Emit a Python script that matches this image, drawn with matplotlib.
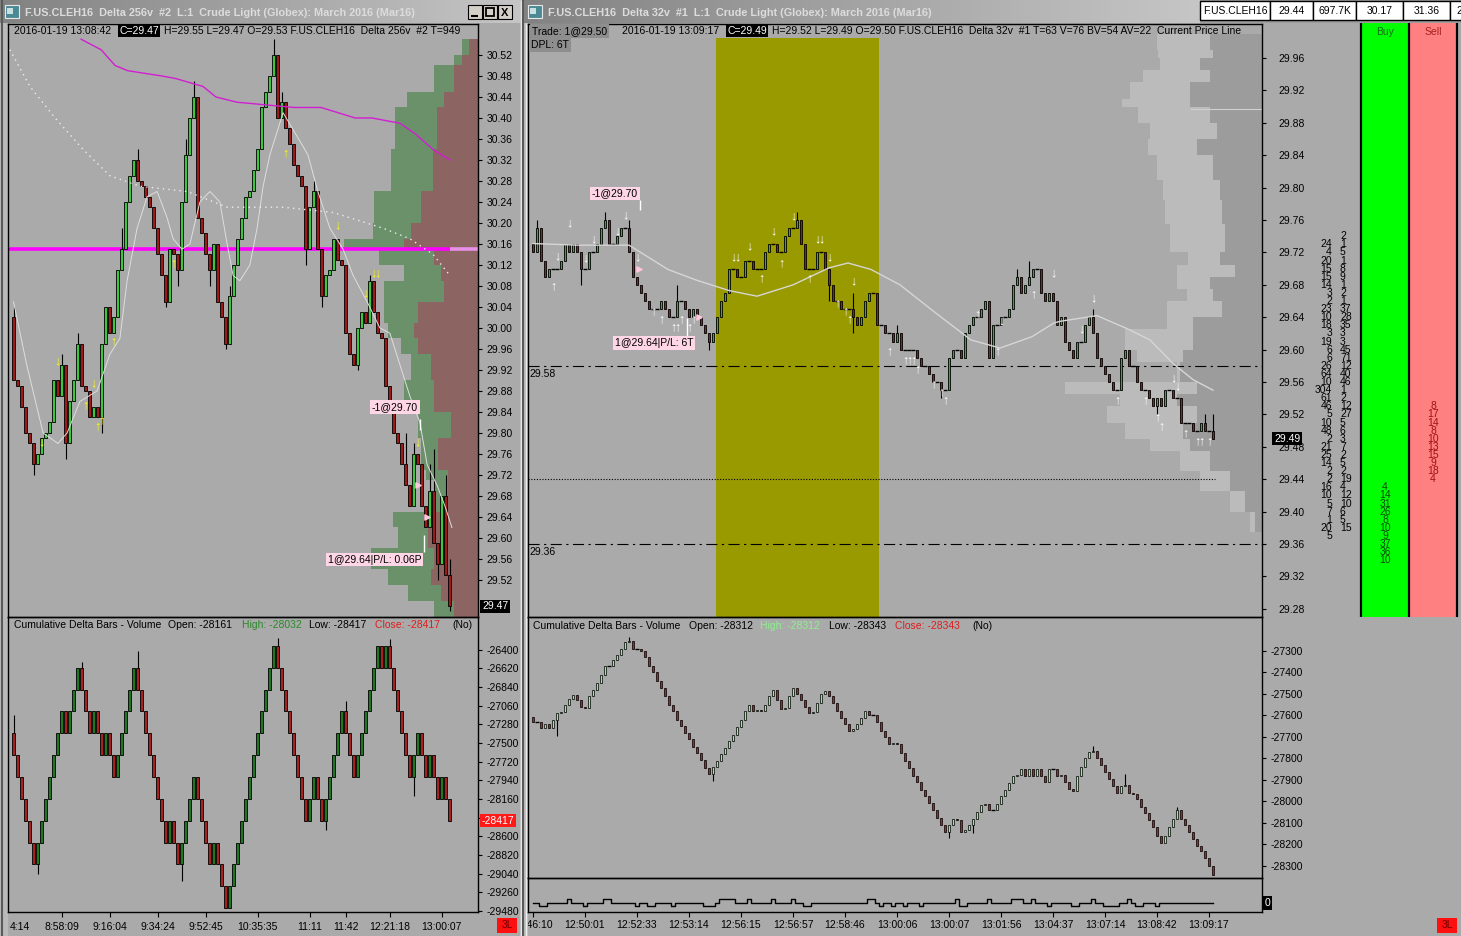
import numpy as np
import matplotlib.pyplot as plt
from matplotlib.patches import Rectangle
from matplotlib.colors import LinearSegmentedColormap

plt.rcParams['font.family'] = ['Liberation Sans', 'DejaVu Sans']
plt.rcParams['font.size'] = 7.5

W, H = 1461, 936
BG = '#aaaaaa'

# %%
# left window: Delta 256v, price bars
lp_open0 = 30.02
lp_close = [29.90, 29.89, 29.85, 29.80, 29.78, 29.74, 29.76, 29.79, 29.80, 29.82,
            29.90, 29.87, 29.93, 29.78, 29.86, 29.90, 29.97, 29.89, 29.88, 29.83,
            29.85, 29.83, 29.97, 30.04, 29.99, 30.02, 30.11, 30.15, 30.24, 30.29,
            30.32, 30.28, 30.27, 30.25, 30.23, 30.19, 30.14, 30.10, 30.05, 30.15,
            30.14, 30.11, 30.24, 30.33, 30.40, 30.44, 30.21, 30.18, 30.14, 30.11,
            30.16, 30.05, 30.02, 29.97, 30.06, 30.12, 30.17, 30.21, 30.25, 30.26,
            30.30, 30.34, 30.42, 30.45, 30.48, 30.52, 30.40, 30.43, 30.38, 30.35,
            30.31, 30.29, 30.27, 30.15, 30.23, 30.26, 30.15, 30.06, 30.10, 30.11,
            30.17, 30.13, 30.12, 29.99, 29.95, 29.93, 30.00, 30.03, 30.01, 30.09,
            30.03, 29.99, 29.98, 29.89, 29.85, 29.80, 29.78, 29.74, 29.70, 29.66,
            29.76, 29.74, 29.66, 29.62, 29.69, 29.59, 29.55, 29.68, 29.53, 29.47]
lp_hi = {0: 30.04, 12: 29.95, 16: 29.99, 27: 30.19, 31: 30.34, 43: 30.36, 45: 30.47,
         54: 30.08, 65: 30.55, 67: 30.45, 75: 30.28, 89: 30.10, 98: 29.80, 100: 29.78,
         104: 29.74, 105: 29.77, 108: 29.72, 109: 29.56}
lp_lo = {5: 29.72, 13: 29.75, 22: 29.80, 38: 30.04, 41: 30.08, 49: 30.08, 53: 29.96,
         73: 30.12, 77: 30.04, 86: 29.92, 106: 29.52, 109: 29.46}

# moving averages / vwap (bar position, price)
lma_bar = [0, 3.3, 7.4, 11.1, 13.4, 16.6, 20.9, 24.1, 26.6, 28.4, 30.9, 33.4, 35.9, 38.4,
           39.9, 42.1, 44.1, 46.6, 49.1, 51.6, 53.4, 54.9, 56.6, 59.1, 60.9, 62.4, 64.1,
           67.4, 73.6, 76.1, 79.1, 82.4, 84.9, 88.4, 91.6, 94.1, 96.6, 99.1, 101.6, 103.4,
           105.9, 107.9, 109.6]
lma_px = [30.05, 29.93, 29.80, 29.78, 29.80, 29.86, 29.88, 29.95, 29.98, 30.09, 30.19,
          30.25, 30.26, 30.21, 30.17, 30.15, 30.16, 30.24, 30.26, 30.24, 30.16, 30.10,
          30.09, 30.12, 30.19, 30.27, 30.33, 30.41, 30.33, 30.26, 30.19, 30.15, 30.10,
          30.05, 30.00, 29.99, 29.93, 29.87, 29.82, 29.74, 29.70, 29.66, 29.62]
ldot_bar = [-0.9, 4.1, 10.4, 17.4, 24.1, 31.6, 43.4, 53.4, 67.4, 79.9, 92.4, 99.1, 104.9, 109.1]
ldot_px = [30.53, 30.46, 30.40, 30.34, 30.29, 30.27, 30.26, 30.23, 30.23, 30.22, 30.19,
           30.17, 30.14, 30.10]
lvw_bar = [16.9, 21.9, 25.4, 28.6, 37.1, 40.6, 47.4, 50.6, 55.9, 70.1, 76.9, 85.4, 89.6,
           96.6, 100.4, 104.9, 109.1]
lvw_px = [30.55, 30.53, 30.50, 30.49, 30.48, 30.475, 30.46, 30.44, 30.43, 30.42, 30.42,
          30.40, 30.40, 30.39, 30.37, 30.34, 30.32]
l_level = 30.15

l_up_bar = [18, 21, 22, 25, 40, 68]
l_up_px = [29.853, 29.812, 29.825, 29.974, 30.123, 30.333]
l_dn_bar = [7, 11, 20, 81, 88, 90, 91, 101]
l_dn_px = [29.783, 29.936, 29.895, 30.196, 30.066, 30.105, 30.105, 29.783]

# volume profile (left)
lprof_edges = [30.55, 30.52, 30.50, 30.45, 30.42, 30.34, 30.26, 30.20, 30.17, 30.15, 30.12,
               30.09, 30.05, 30.01, 29.98, 29.95, 29.90, 29.84, 29.79, 29.73, 29.71, 29.65,
               29.62, 29.58, 29.54, 29.51, 29.48, 29.45]
lprof_total = [16, 24, 44, 71, 83, 87, 104, 105, 134, 99, 74, 94, 94, 90, 77, 67, 74, 60,
               57, 52, 44, 85, 80, 107, 90, 70, 44]
lprof_sell = [9, 16, 24, 34, 41, 45, 57, 67, 74, 44, 37, 34, 60, 64, 60, 47, 44, 27, 40,
              30, 30, 54, 50, 44, 47, 37, 24]

# left cumulative delta
ld_open0 = -27385
ld_close = [-27640, -27900, -28160, -28417, -28675, -28930, -28675, -28417, -28160, -27900,
            -27640, -27385, -27125, -27385, -27125, -26870, -26615, -26870, -27125, -27385,
            -27125, -27385, -27640, -27385, -27640, -27900, -27640, -27385, -27125, -26870,
            -26615, -26870, -27125, -27385, -27640, -27900, -28160, -28417, -28675, -28417,
            -28675, -28930, -28675, -28417, -28160, -27900, -28160, -28417, -28675, -28930,
            -28675, -28930, -29185, -29440, -29185, -28930, -28675, -28417, -28160, -27900,
            -27640, -27385, -27125, -26870, -26615, -26360, -26615, -26870, -27125, -27385,
            -27640, -27900, -28160, -28417, -28160, -27900, -28160, -28417, -28160, -27900,
            -27640, -27385, -27125, -27385, -27640, -27900, -27640, -27385, -27125, -26870,
            -26615, -26360, -26615, -26360, -26615, -26870, -27125, -27385, -27640, -27900,
            -27640, -27385, -27640, -27900, -27640, -27900, -28160, -27900, -28160, -28417]
ld_hi = {0: -27169, 17: -26544, 31: -26412, 66: -26261, 83: -27010, 94: -26273}
ld_lo = {6: -29042, 42: -29122, 78: -28525, 100: -28125}

# first label is cut by the window edge in the screenshot: only "4:14" shows
l_time_bar = [-0.9, 12, 24, 36, 48, 61, 74, 83, 94, 107]
l_time_lab = ['4:14', '8:58:09', '9:16:04', '9:34:24', '9:52:45', '10:35:35', '11:11',
              '11:42', '12:21:18', '13:00:07']

# %%
# right window: Delta 32v
rp_open0 = 29.73
rp_close = [29.72, 29.75, 29.71, 29.69, 29.70, 29.70, 29.70, 29.71, 29.73, 29.72,
            29.73, 29.72, 29.70, 29.70, 29.72, 29.72, 29.73, 29.75, 29.76, 29.73,
            29.73, 29.74, 29.75, 29.75, 29.72, 29.69, 29.68, 29.67, 29.66, 29.65,
            29.65, 29.65, 29.66, 29.65, 29.64, 29.64, 29.66, 29.66, 29.65, 29.64,
            29.65, 29.64, 29.63, 29.62, 29.61, 29.62, 29.64, 29.66, 29.67, 29.70,
            29.70, 29.69, 29.69, 29.71, 29.71, 29.70, 29.70, 29.70, 29.72, 29.73,
            29.73, 29.72, 29.72, 29.74, 29.75, 29.75, 29.76, 29.73, 29.70, 29.70,
            29.70, 29.72, 29.72, 29.70, 29.68, 29.66, 29.66, 29.65, 29.65, 29.65,
            29.64, 29.63, 29.64, 29.66, 29.67, 29.67, 29.63, 29.63, 29.62, 29.62,
            29.61, 29.62, 29.60, 29.60, 29.60, 29.60, 29.59, 29.58, 29.58, 29.57,
            29.56, 29.56, 29.55, 29.55, 29.59, 29.60, 29.60, 29.59, 29.62, 29.63,
            29.64, 29.64, 29.65, 29.66, 29.59, 29.63, 29.63, 29.64, 29.64, 29.65,
            29.68, 29.69, 29.67, 29.68, 29.69, 29.70, 29.70, 29.67, 29.66, 29.67,
            29.66, 29.63, 29.64, 29.61, 29.60, 29.59, 29.61, 29.61, 29.63, 29.64,
            29.62, 29.59, 29.58, 29.57, 29.56, 29.55, 29.55, 29.59, 29.60, 29.58,
            29.58, 29.56, 29.55, 29.55, 29.54, 29.53, 29.54, 29.53, 29.55, 29.55,
            29.54, 29.54, 29.51, 29.51, 29.51, 29.50, 29.50, 29.51, 29.50, 29.50,
            29.49]
rp_hi = {1: 29.76, 18: 29.77, 24: 29.76, 36: 29.68, 66: 29.77, 80: 29.67, 91: 29.63,
         114: 29.66, 121: 29.70, 124: 29.71, 140: 29.65, 168: 29.52, 170: 29.52}
rp_lo = {12: 29.68, 44: 29.60, 74: 29.66, 80: 29.62, 102: 29.54, 104: 29.55, 156: 29.52}

rma_bar = [0, 11.5, 24, 33.75, 40.75, 49, 56, 65, 74, 78.75, 84.5, 91.75, 100.75, 109.5,
           116.75, 124.75, 130.25, 131.75, 141, 148.5, 154.25, 160, 165, 170]
rma_px = [29.731, 29.729, 29.729, 29.699, 29.686, 29.673, 29.666, 29.680, 29.701, 29.707,
          29.699, 29.680, 29.645, 29.612, 29.602, 29.616, 29.633, 29.635, 29.642, 29.626,
          29.612, 29.583, 29.563, 29.550]
r_zone = (45.75, 86.5)
r_lines = {'dashdot': [29.58, 29.36], 'dotted': [29.44]}

r_up_bar = [5, 30, 32, 35, 36, 37, 39, 40, 57, 62, 69, 76, 78, 79, 89, 93, 94, 95, 96,
            100, 102, 103, 111, 116, 125, 146, 153, 156, 157, 163, 166, 167, 169]
r_up_px = [29.678, 29.647, 29.637, 29.628, 29.628, 29.637, 29.628, 29.637, 29.688, 29.707,
           29.688, 29.657, 29.647, 29.637, 29.598, 29.587, 29.587, 29.587, 29.576, 29.557,
           29.547, 29.538, 29.644, 29.598, 29.668, 29.537, 29.537, 29.517, 29.506, 29.497,
           29.487, 29.487, 29.487]
r_dn_bar = [6, 9, 13, 15, 21, 23, 26, 50, 51, 54, 60, 65, 71, 72, 74, 80, 117, 130, 137,
            140, 160, 161]
r_dn_px = [29.715, 29.756, 29.713, 29.736, 29.746, 29.766, 29.714, 29.714, 29.714, 29.727,
           29.746, 29.765, 29.736, 29.736, 29.714, 29.685, 29.635, 29.694, 29.625, 29.664,
           29.565, 29.555]

rprof_edges = [29.99, 29.97, 29.96, 29.945, 29.93, 29.91, 29.90, 29.88, 29.86, 29.84, 29.81,
               29.785, 29.755, 29.72, 29.705, 29.69, 29.675, 29.66, 29.64, 29.625, 29.60,
               29.585, 29.56, 29.545, 29.53, 29.51, 29.49, 29.475, 29.45, 29.425, 29.40,
               29.375]
rprof_all = [105, 104, 102, 119, 132, 140, 124, 112, 114, 105, 99, 97, 92, 74, 85, 85, 75,
             95, 95, 137, 125, 85, 197, 142, 155, 137, 112, 82, 62, 32, 12]
rprof_dark = [52, 49, 62, 52, 72, 72, 52, 45, 65, 49, 42, 40, 37, 42, 27, 52, 49, 40, 69,
              69, 79, 82, 65, 85, 65, 79, 72, 52, 32, 17, 7]

rd_open0 = -27605
rd_close = [-27630, -27630, -27660, -27640, -27660, -27620, -27590, -27585, -27550, -27525,
            -27505, -27530, -27560, -27565, -27510, -27480, -27450, -27410, -27370, -27370,
            -27340, -27320, -27290, -27260, -27255, -27290, -27290, -27300, -27330, -27370,
            -27400, -27440, -27470, -27510, -27550, -27580, -27620, -27650, -27680, -27710,
            -27745, -27775, -27805, -27845, -27870, -27840, -27810, -27780, -27750, -27720,
            -27690, -27655, -27620, -27580, -27550, -27580, -27575, -27580, -27550, -27510,
            -27480, -27530, -27570, -27565, -27510, -27470, -27500, -27530, -27560, -27590,
            -27585, -27540, -27500, -27485, -27510, -27540, -27580, -27610, -27640, -27670,
            -27665, -27640, -27610, -27580, -27600, -27600, -27630, -27670, -27700, -27735,
            -27730, -27735, -27775, -27810, -27845, -27880, -27910, -27945, -27975, -28005,
            -28040, -28075, -28110, -28140, -28110, -28080, -28085, -28140, -28135, -28110,
            -28080, -28050, -28015, -28010, -28040, -28040, -28010, -27975, -27945, -27915,
            -27880, -27875, -27850, -27880, -27850, -27880, -27850, -27880, -27910, -27850,
            -27850, -27880, -27875, -27910, -27940, -27950, -27880, -27840, -27800, -27770,
            -27765, -27800, -27830, -27865, -27895, -27930, -27960, -27930, -27925, -27960,
            -27965, -27990, -28025, -28055, -28085, -28120, -28160, -28195, -28160, -28120,
            -28080, -28040, -28080, -28110, -28140, -28175, -28205, -28230, -28265, -28300,
            -28343]
rd_hi = {24: -27236, 140: -27742, 148: -27872, 161: -28027}
rd_lo = {6: -27695, 45: -27903, 104: -28171, 110: -28145}

vol_up_bars = [9, 18, 19, 47, 48, 49, 50, 54, 60, 65, 84, 85, 106, 114, 120, 121, 122,
               125, 140, 149]
vol_dn_bars = [2, 3, 13, 26, 29, 30, 35, 43, 44, 45, 68, 69, 87, 90, 93, 97, 107, 108,
               129, 135, 136, 143, 144, 145, 146, 151, 152, 156]

r_time_bar = [0, 13, 26, 39, 52, 65, 78, 91, 104, 117, 130, 143, 156, 169]
r_time_lab = ['12:46:10', '12:50:01', '12:52:33', '12:53:14', '12:56:15', '12:56:57',
              '12:58:46', '13:00:06', '13:00:07', '13:01:56', '13:04:37', '13:07:14',
              '13:08:42', '13:09:17']

# DOM ladder
dom_px = [29.74, 29.73, 29.72, 29.71, 29.70, 29.69, 29.68, 29.67, 29.66, 29.65, 29.64,
          29.63, 29.62, 29.61, 29.60, 29.59, 29.58, 29.57, 29.56, 29.55, 29.54, 29.53,
          29.52, 29.51, 29.50, 29.49, 29.48, 29.47, 29.46, 29.45, 29.44, 29.43, 29.42,
          29.41, 29.40, 29.39, 29.38, 29.37]
dom_left = ['', '24', '4', '20', '15', '15', '14', '3', '2', '23', '10', '18', '3', '19',
            '6', '6', '26', '64', '10', '304', '61', '46', '5', '10', '48', '2', '21', '25',
            '14', '2', '2', '16', '10', '5', '7', '1', '20', '5']
dom_right = ['2', '1', '5', '1', '8', '9', '1', '2', '1', '37', '28', '35', '3', '3', '45',
             '71', '12', '40', '46', '1', '2', '12', '27', '5', '6', '3', '7', '2', '5', '2',
             '19', '4', '12', '10', '6', '5', '15', '']
buy_px = [29.43, 29.42, 29.41, 29.40, 29.39, 29.38, 29.37, 29.36, 29.35, 29.34]
buy_qty = [4, 14, 31, 26, 8, 10, 9, 37, 36, 10]
sell_px = [29.53, 29.52, 29.51, 29.50, 29.49, 29.48, 29.47, 29.46, 29.45, 29.44]
sell_qty = [8, 17, 14, 8, 10, 13, 15, 9, 18, 4]

quote_cells = ['F.US.CLEH16', '29.44', '697.7K', '30.17', '31.36', '2']


# %%
fig = plt.figure(figsize=(W / 100, H / 100), dpi=100)
fig.patch.set_facecolor('#bababa')


def px_axes(x0, y0, x1, y1, z, name):
    return fig.add_axes([x0 / W, 1 - y1 / H, (x1 - x0) / W, (y1 - y0) / H],
                        zorder=z, label=name)


def chart_axes(box, xlim, ylim, name, z=2, pad=3):
    ax = px_axes(*box, z, name)
    ax.set_facecolor('none')
    ax.set_xlim(xlim)
    ax.set_ylim(ylim)
    for s in ax.spines.values():
        s.set_color('black')
        s.set_linewidth(1)
    ax.set_xticks([])
    ax.yaxis.tick_right()
    ax.tick_params(axis='y', direction='out', length=3, width=0.8, pad=pad,
                   labelsize=7.5, colors='black')
    return ax


def ptext(ax, box, x, y, s, **kw):
    kw.setdefault('va', 'center')
    kw.setdefault('ha', 'left')
    return ax.text((x - box[0]) / (box[2] - box[0]), (box[3] - y) / (box[3] - box[1]), s,
                   transform=ax.transAxes, **kw)


def candles(ax, first_open, closes, highs, lows, up, dn, width=0.7, elw=0.6):
    c = np.array(closes, dtype=float)
    o = np.concatenate([[first_open], c[:-1]])
    idx = np.arange(len(c))
    top = np.maximum(o, c)
    bot = np.minimum(o, c)
    hi = top.copy()
    lo = bot.copy()
    for k, v in highs.items():
        hi[k] = max(hi[k], v)
    for k, v in lows.items():
        lo[k] = min(lo[k], v)
    ax.vlines(idx, lo, hi, color='black', lw=0.8, zorder=3)
    cols = [up if cc > oo else dn for oo, cc in zip(o, c)]
    ax.bar(idx, top - bot, width, bot, color=cols, edgecolor='black', lw=elw, zorder=4)
    flat = idx[c == o]
    ax.hlines(c[flat], flat - width / 2 - 0.1, flat + width / 2 + 0.1, color='black',
              lw=1.0, zorder=4)


def time_axis(box, xlim, ticks, labels, ylab, name, first_left=False):
    ax = px_axes(*box, 2, name)
    ax.set_xlim(xlim)
    ax.set_ylim(0, 1)
    ax.axis('off')
    tick_pos = [t for t in ticks if t >= 0]
    ax.vlines(tick_pos, 0.8, 1.0, color='black', lw=0.8)
    for k, (t, s) in enumerate(zip(ticks, labels)):
        ha = 'left' if (first_left and k == 0) else 'center'
        ax.text(t, ylab, s, ha=ha, va='center', clip_on=True)
    return ax


def axis_box(ax, value, s, fc, tc, dx):
    ax.text(dx, value, s, transform=ax.get_yaxis_transform(), color=tc, va='center',
            ha='left', clip_on=False, zorder=20,
            bbox=dict(fc=fc, ec='none', pad=1.2))


def arrows(ax, bars, prices, glyph, color):
    for b, p in zip(bars, prices):
        ax.text(b, p, glyph, color=color, ha='center', va='center', fontsize=9,
                fontweight='bold', zorder=6)


# background layer
base = px_axes(0, 0, W, H, 0, 'base')
base.set_axis_off()
grad = LinearSegmentedColormap.from_list('title', ['#828282', '#c6c6c6'])
ramp = np.linspace(0, 1, 256)[None, :]
base.imshow(ramp, cmap=grad, extent=(0, 521, 23, 0), aspect='auto')
base.imshow(ramp, cmap=grad, extent=(524, 1200, 23, 0), aspect='auto')
base.add_patch(Rectangle((8, 23), 512, 913, fc=BG, ec='none'))
base.add_patch(Rectangle((528, 23), 933, 913, fc=BG, ec='none'))
base.add_patch(Rectangle((1200, 0), 261, 23, fc='#9c9c9c', ec='none'))
base.add_patch(Rectangle((1362, 23), 46, 594, fc='#00ff00', ec='none'))
base.add_patch(Rectangle((1410, 23), 46, 594, fc='#ff8080', ec='none'))
base.vlines([1361, 1409, 1457], 23, 617, color='black', lw=1.6)
base.vlines([1.5], 0, H, color='#5a5a5a', lw=1.5)
base.vlines([520.5], 0, H, color='#ececec', lw=1)
base.vlines([522.5], 0, H, color='#5a5a5a', lw=1.5)
base.vlines([525.5], 23, H, color='#ececec', lw=1)
base.set_xlim(0, W)
base.set_ylim(H, 0)

# %%
# left upper: price + profile
boxLU = (8, 24, 478, 617)
xl_L = (-1.375, 116.125)
yl_LU = (29.4495, 30.579)
profL = px_axes(*boxLU, 1, 'profL')
profL.axis('off')
profL.set_xlim(470, 0)
profL.set_ylim(yl_LU)
le = np.array(lprof_edges)
profL.barh((le[:-1] + le[1:]) / 2, lprof_total, height=le[:-1] - le[1:], left=0,
           color='#6b916b', edgecolor='none')
profL.barh((le[:-1] + le[1:]) / 2, lprof_sell, height=le[:-1] - le[1:], left=0,
           color='#8c6462', edgecolor='none')

axLU = chart_axes(boxLU, xl_L, yl_LU, 'LU')
lu_ticks = np.round(np.arange(29.52, 30.521, 0.04), 2)
axLU.set_yticks(lu_ticks)
axLU.set_yticklabels([f'{v:.2f}' for v in lu_ticks])
axLU.hlines(l_level, xl_L[0], 109.1, color='#ff00ff', lw=2.6, zorder=2)
axLU.hlines(l_level, 109.1, xl_L[1], color='#e890e8', lw=2.6, zorder=2)
candles(axLU, lp_open0, lp_close, lp_hi, lp_lo, '#3cc83c', '#a01818')
axLU.plot(lma_bar, lma_px, color='#dedede', lw=0.7, zorder=5)
axLU.plot(ldot_bar, ldot_px, color='#eeeeee', lw=1, ls=(0, (1, 3)), zorder=5)
axLU.plot(lvw_bar, lvw_px, color='#d21ed2', lw=1, zorder=5)
arrows(axLU, l_up_bar, l_up_px, '↑', '#ffff00')
arrows(axLU, l_dn_bar, l_dn_px, '↓', '#ffff00')
pink = dict(fc='#ffd6e6', ec='none', pad=1.3)
axLU.text(89.6, 29.85, '-1@29.70', va='center', ha='left', bbox=pink, zorder=8)
axLU.vlines(101.6, 29.806, 29.826, color='white', lw=1, zorder=7)
axLU.text(78.6, 29.559, '1@29.64|P/L: 0.06P', va='center', ha='left', bbox=pink, zorder=8)
axLU.vlines(102.6, 29.573, 29.606, color='white', lw=1, zorder=7)
axLU.scatter([101.2, 103.3], [29.70, 29.64], marker='>', color='#ffc8dc', s=14, zorder=7)
axis_box(axLU, 29.47, '29.47', 'black', 'white', 1 + 4 / 470)
ptext(axLU, boxLU, 14, 31, '2016-01-19 13:08:42')
ptext(axLU, boxLU, 119, 31, 'C=29.47', color='white', bbox=dict(fc='black', ec='none', pad=1))
ptext(axLU, boxLU, 164, 31, 'H=29.55 L=29.47 O=29.53 F.US.CLEH16  Delta 256v  #2 T=949',
      clip_on=True)

# left lower: cumulative delta (the -28380 label sits under the close box)
boxLL = (8, 617, 478, 912)
axLL = chart_axes(boxLL, xl_L, (-29492, -26014), 'LL')
ll_ticks = np.arange(-26400, -29481, -220)
axLL.set_yticks(ll_ticks)
axLL.set_yticklabels(['' if v == -28380 else str(v) for v in ll_ticks])
candles(axLL, ld_open0, ld_close, ld_hi, ld_lo, '#1e781e', '#a82020')
axis_box(axLL, -28417, '-28417', '#ff1a1a', 'white', 1 + 4 / 470)
ptext(axLL, boxLL, 13.5, 625, 'Cumulative Delta Bars - Volume')
ptext(axLL, boxLL, 168, 625, 'Open: -28161')
ptext(axLL, boxLL, 242, 625, 'High: -28032', color='#2a8a2a')
ptext(axLL, boxLL, 309, 625, 'Low: -28417')
ptext(axLL, boxLL, 375, 625, 'Close: -28417', color='#e01c1c')
ptext(axLL, boxLL, 452, 625, '(No)')
time_axis((8, 912, 478, 936), xl_L, l_time_bar, l_time_lab, 0.37, 'LT', first_left=True)

# %%
# right upper: price + profile + DOM
boxRU = (528, 24, 1262, 617)
xl_R = (-1.25, 182.25)
yl_RU = (29.270, 30.002)
profR = px_axes(*boxRU, 1, 'profR')
profR.axis('off')
profR.set_xlim(734, 0)
profR.set_ylim(yl_RU)
re_ = np.array(rprof_edges)
profR.barh((re_[:-1] + re_[1:]) / 2, rprof_all, height=re_[:-1] - re_[1:], left=0,
           color='#bbbbbb', edgecolor='none')
profR.barh((re_[:-1] + re_[1:]) / 2, rprof_dark, height=re_[:-1] - re_[1:], left=0,
           color='#9c9c9c', edgecolor='none')

axRU = chart_axes(boxRU, xl_R, yl_RU, 'RU', pad=9)
ru_ticks = np.round(np.arange(29.28, 29.961, 0.04), 2)
axRU.set_yticks(ru_ticks)
axRU.set_yticklabels([f'{v:.2f}' for v in ru_ticks])
axRU.axvspan(*r_zone, ymin=0, ymax=0.976, color='#999900', zorder=0, lw=0)
for lv in r_lines['dashdot']:
    axRU.axhline(lv, color='black', lw=0.8, ls=(0, (10, 4, 2, 4)), zorder=2)
    axRU.text(-0.8, lv - 0.004, f'{lv:.2f}', ha='left', va='top', zorder=2)
for lv in r_lines['dotted']:
    axRU.hlines(lv, xl_R[0], 170.5, color='black', lw=0.8, ls=(0, (1, 1.5)), zorder=2)
axRU.hlines(29.897, 164.25, xl_R[1], color='#d0d0d0', lw=0.8, zorder=1)
candles(axRU, rp_open0, rp_close, rp_hi, rp_lo, '#30b030', '#962020')
axRU.plot(rma_bar, rma_px, color='#d6d6d6', lw=1, zorder=5)
arrows(axRU, r_up_bar, r_up_px, '↑', 'white')
arrows(axRU, r_dn_bar, r_dn_px, '↓', 'white')
axRU.text(14.75, 29.793, '-1@29.70', va='center', ha='left', bbox=pink, zorder=8)
axRU.vlines(26.75, 29.772, 29.785, color='white', lw=1, zorder=7)
axRU.text(20.5, 29.608, '1@29.64|P/L: 6T', va='center', ha='left', bbox=pink, zorder=8)
axRU.vlines(38.5, 29.617, 29.639, color='white', lw=1, zorder=7)
axRU.scatter([26.4, 41.5], [29.70, 29.64], marker='>', color='#ffc8dc', s=14, zorder=7)
axis_box(axRU, 29.49, '29.49', 'black', 'white', 1 + 12 / 734)
ptext(axRU, boxRU, 532, 31, 'Trade: 1@29.50', bbox=dict(fc='#8e8e8e', ec='none', pad=1.2))
ptext(axRU, boxRU, 622, 31, '2016-01-19 13:09:17')
ptext(axRU, boxRU, 727, 31, 'C=29.49', color='white', bbox=dict(fc='black', ec='none', pad=1))
ptext(axRU, boxRU, 772, 31, 'H=29.52 L=29.49 O=29.50 F.US.CLEH16  Delta 32v  #1 T=63 '
      'V=76 BV=54 AV=22  Current Price Line', clip_on=True)
ptext(axRU, boxRU, 531, 45, 'DPL: 6T', bbox=dict(fc='#8e8e8e', ec='none', pad=1.2))

dom = px_axes(1262, 24, 1461, 617, 3, 'dom')
dom.axis('off')
dom.set_xlim(1262, 1461)
dom.set_ylim(yl_RU)
for p, a, b in zip(dom_px, dom_left, dom_right):
    dom.text(1332, p, a, ha='right', va='center')
    dom.text(1340, p, b, ha='left', va='center')
for p, q in zip(buy_px, buy_qty):
    dom.text(1385, p, str(q), ha='center', va='center', color='#0c4a0c')
for p, q in zip(sell_px, sell_qty):
    dom.text(1433, p, str(q), ha='center', va='center', color='#a01010')

# right lower: cumulative delta + volume strip
boxRL = (528, 617, 1262, 878)
axRL = chart_axes(boxRL, xl_R, (-28356, -27142), 'RL')
rl_ticks = np.arange(-27300, -28301, -100)
axRL.set_yticks(rl_ticks)
axRL.set_yticklabels([str(v) for v in rl_ticks])
candles(axRL, rd_open0, rd_close, rd_hi, rd_lo, '#a0e6a0', '#a82828', elw=0.5)
ptext(axRL, boxRL, 533, 626, 'Cumulative Delta Bars - Volume')
ptext(axRL, boxRL, 689, 626, 'Open: -28312')
ptext(axRL, boxRL, 760, 626, 'High: -28312', color='#8ef08e')
ptext(axRL, boxRL, 829, 626, 'Low: -28343')
ptext(axRL, boxRL, 895, 626, 'Close: -28343', color='#e01c1c')
ptext(axRL, boxRL, 972, 626, '(No)')

boxRV = (528, 878, 1262, 912)
axRV = chart_axes(boxRV, xl_R, (-2.6, 7.1), 'RV')
axRV.set_yticks([])
vol_lev = np.zeros(len(rd_close))
vol_lev[vol_up_bars] = 1
vol_lev[vol_dn_bars] = -1
axRV.step(np.arange(len(vol_lev)), vol_lev, where='mid', color='black', lw=1)
axis_box(axRV, 0, '0', 'black', 'white', 1 + 3 / 734)
time_axis((528, 912, 1262, 936), xl_R, r_time_bar, r_time_lab, 0.45, 'RT')

# %%
# window chrome and overlay texts
over = px_axes(0, 0, W, H, 10, 'over')
over.axis('off')
over.set_xlim(0, W)
over.set_ylim(H, 0)
for x0, title in [(4, 'F.US.CLEH16  Delta 256v  #2  L:1  Crude Light (Globex): March 2016 (Mar16)'),
                  (527, 'F.US.CLEH16  Delta 32v  #1  L:1  Crude Light (Globex): March 2016 (Mar16)')]:
    over.add_patch(Rectangle((x0 + 1, 5), 14, 13, fc='#4b8a94', ec='#e8e8e8', lw=0.8))
    over.add_patch(Rectangle((x0 + 3, 8), 6, 6, fc='#c8e0e0', ec='none'))
    over.text(x0 + 21, 12.5, title, color='#dcdcdc', fontweight='bold', fontsize=7.8,
              ha='left', va='center')
for bx in (468, 483, 498):
    over.add_patch(Rectangle((bx, 5), 14, 14, fc='#d4d0c8', ec='black', lw=0.8))
over.hlines(16, 471, 478, color='black', lw=1.5)
over.add_patch(Rectangle((486, 8), 8, 8, fc='none', ec='black', lw=1.3))
over.text(505, 12.5, 'X', ha='center', va='center', fontweight='bold', fontsize=8)

cell_x = [1200, 1270, 1313, 1356, 1403, 1450, 1470]
for i, s in enumerate(quote_cells):
    over.add_patch(Rectangle((cell_x[i], 1), cell_x[i + 1] - cell_x[i], 19, fc='white',
                             ec='black', lw=1))
    if i == 0:
        over.text(cell_x[i] + 3, 10.5, s, ha='left', va='center')
    else:
        over.text((cell_x[i] + min(cell_x[i + 1], W + 8)) / 2, 10.5, s, ha='center',
                  va='center', clip_on=True)
over.text(1385, 32, 'Buy', ha='center', va='center', color='#1a6a1a')
over.text(1433, 32, 'Sell', ha='center', va='center', color='#a82020')
for x0 in (497, 1437):
    over.add_patch(Rectangle((x0, 918), 20, 15, fc='#ff1010', ec='none'))
    over.text(x0 + 10, 925.5, '3L', ha='center', va='center', color='#700000')

fig.savefig('out.png', dpi=100, facecolor=fig.get_facecolor())
